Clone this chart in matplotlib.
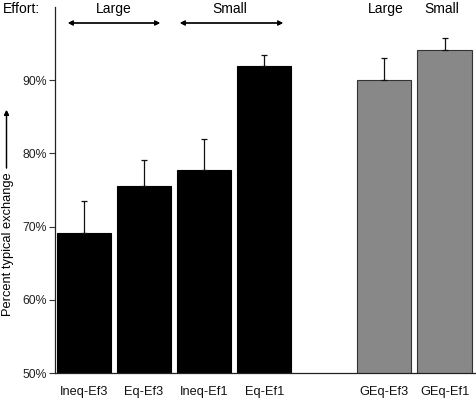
import numpy as np
import matplotlib.pyplot as plt

plt.rcParams['font.family'] = ['Liberation Sans', 'DejaVu Sans']

labels = ["Ineq-Ef3", "Eq-Ef3", "Ineq-Ef1", "Eq-Ef1", "GEq-Ef3", "GEq-Ef1"]
positions = [0, 1, 2, 3, 5, 6]
values = [69.1, 75.5, 77.8, 92.0, 90.0, 94.1]
err_up = [4.4, 3.6, 4.1, 1.4, 3.0, 1.6]
colors = ["black", "black", "black", "black", "#888888", "#888888"]
edges = ["black", "black", "black", "black", "#333333", "#333333"]

fig = plt.figure(figsize=(4.76, 4.0), dpi=100)
ax = fig.add_axes([0.1155, 0.0675, 0.884, 0.915])

ax.bar(positions, values, width=0.9, color=colors, edgecolor=edges, linewidth=0.8,
       bottom=0, zorder=2)
ax.errorbar(positions, values, yerr=[np.zeros(len(values)), err_up], fmt="none",
            ecolor="#111111", elinewidth=0.9, capsize=2.5, capthick=0.9, zorder=3)

ax.set_ylim(50, 100)
ax.set_xlim(-0.48, 6.52)
ax.set_yticks([50, 60, 70, 80, 90])
ax.set_yticklabels(["50%", "60%", "70%", "80%", "90%"], fontsize=8.8, color="#222222")
ax.set_xticks(positions)
ax.set_xticklabels(labels, fontsize=9.2, color="#111111")
ax.tick_params(axis="x", length=0, pad=9)
ax.tick_params(axis="y", length=4, width=0.8, pad=2, colors="#333333", labelcolor="#222222")
for s in ["top", "right"]:
    ax.spines[s].set_visible(False)
ax.spines["left"].set_linewidth(0.9)
ax.spines["bottom"].set_linewidth(0.9)
ax.spines["left"].set_color("#222222")
ax.spines["bottom"].set_color("#222222")

# labels on top
fs = 10
fig.text(3 / 476, 1 - 9 / 400, "Effort:", fontsize=fs, ha="left", va="center")
fig.text(114 / 476, 1 - 9 / 400, "Large", fontsize=fs, ha="center", va="center")
fig.text(230 / 476, 1 - 9 / 400, "Small", fontsize=fs, ha="center", va="center")
fig.text(386 / 476, 1 - 9 / 400, "Large", fontsize=fs, ha="center", va="center")
fig.text(442 / 476, 1 - 9 / 400, "Small", fontsize=fs, ha="center", va="center")

arrow = dict(arrowstyle="<|-|>", color="black", lw=0.9, mutation_scale=7, shrinkA=0, shrinkB=0)
fig.add_artist(plt.annotate("", xy=(68 / 476, 1 - 23 / 400), xytext=(160 / 476, 1 - 23 / 400),
                            xycoords="figure fraction", arrowprops=arrow))
fig.add_artist(plt.annotate("", xy=(180 / 476, 1 - 23 / 400), xytext=(283 / 476, 1 - 23 / 400),
                            xycoords="figure fraction", arrowprops=arrow))

# y label with arrow
fig.text(8 / 476, 1 - 244 / 400, "Percent typical exchange", rotation=90, fontsize=9.3,
         ha="center", va="center")
fig.add_artist(plt.annotate("", xy=(6.5 / 476, 1 - 110 / 400), xytext=(6.5 / 476, 1 - 168 / 400),
                            xycoords="figure fraction",
                            arrowprops=dict(arrowstyle="-|>", color="black", lw=0.9,
                                            mutation_scale=7, shrinkA=0, shrinkB=0)))

fig.savefig("out.png", dpi=100)
